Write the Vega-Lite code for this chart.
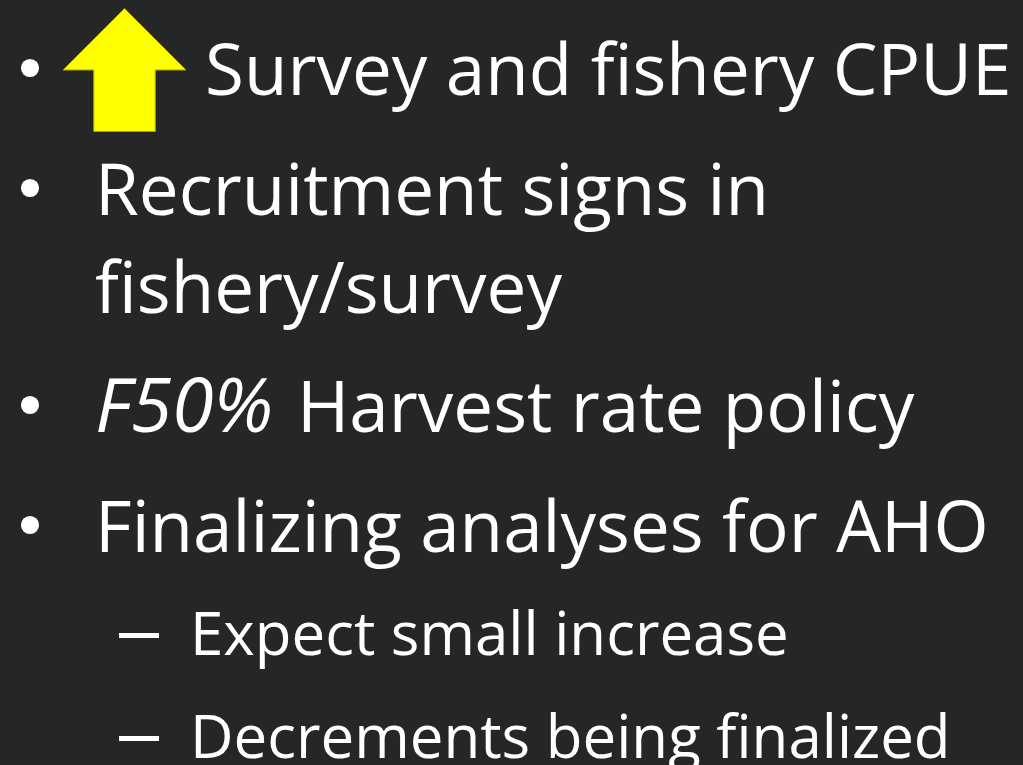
{
  "$schema": "https://vega.github.io/schema/vega-lite/v6.json",
  "autosize": {"type": "fit", "contains": "padding"},
  "width": 1023,
  "height": 765,
  "padding": 0,
  "background": "#262626",
  "config": {"view": {"stroke": null}, "text": {"font": "Open Sans", "color": "#FFFFFF", "baseline": "alphabetic", "align": "left"}},
  "data": {"values": [
    {"kind": "bullet", "row": 1, "col": 0, "text": ""},
    {"kind": "bullet", "row": 2, "col": 0, "text": ""},
    {"kind": "bullet", "row": 4, "col": 0, "text": ""},
    {"kind": "bullet", "row": 5, "col": 0, "text": ""},
    {"kind": "arrow", "row": 1, "col": 1, "text": ""},
    {"kind": "after-arrow", "row": 1, "col": 1, "text": "Survey and fishery CPUE"},
    {"kind": "main", "row": 2, "col": 1, "text": "Recruitment signs in"},
    {"kind": "main", "row": 3, "col": 1, "text": "fishery/survey"},
    {"kind": "italic", "row": 4, "col": 1, "text": "F50%"},
    {"kind": "after-italic", "row": 4, "col": 1, "text": "Harvest rate policy"},
    {"kind": "main", "row": 5, "col": 1, "text": "Finalizing analyses for AHO"},
    {"kind": "dash", "row": 6, "col": 2, "text": "–"},
    {"kind": "dash", "row": 7, "col": 2, "text": "–"},
    {"kind": "sub", "row": 6, "col": 3, "text": "Expect small increase"},
    {"kind": "sub", "row": 7, "col": 3, "text": "Decrements being finalized"}
  ]},
  "encoding": {
    "x": {"field": "col", "type": "quantitative", "axis": null, "scale": {"domain": [0, 1, 2, 3], "range": [30, 95, 119, 190], "zero": false, "nice": false}},
    "y": {"field": "row", "type": "quantitative", "axis": null, "scale": {"domain": [1, 2, 3, 4, 5, 6, 7], "range": [95, 215, 313, 432, 552, 655, 758], "zero": false, "nice": false}}
  },
  "layer": [
    {
      "transform": [{"filter": "datum.kind === 'bullet'"}],
      "mark": {"type": "point", "shape": "circle", "filled": true, "size": 330, "color": "#FFFFFF", "opacity": 1, "yOffset": -27}
    },
    {
      "transform": [{"filter": "datum.kind === 'arrow'"}],
      "mark": {"type": "point", "shape": "M0,-1L1,0L0.5,0L0.5,1L-0.5,1L-0.5,0L-1,0Z", "filled": true, "size": 15129, "fill": "#FFFF00", "fillOpacity": 1, "stroke": "#A8A800", "strokeWidth": 1, "opacity": 1, "xOffset": 29.5, "yOffset": -25}
    },
    {
      "transform": [{"filter": "datum.kind === 'after-arrow'"}],
      "mark": {"type": "text", "fontSize": 71, "dx": 110},
      "encoding": {"text": {"field": "text"}}
    },
    {
      "transform": [{"filter": "datum.kind === 'main'"}],
      "mark": {"type": "text", "fontSize": 71},
      "encoding": {"text": {"field": "text"}}
    },
    {
      "transform": [{"filter": "datum.kind === 'italic'"}],
      "mark": {"type": "text", "fontSize": 75, "fontStyle": "italic"},
      "encoding": {"text": {"field": "text"}}
    },
    {
      "transform": [{"filter": "datum.kind === 'after-italic'"}],
      "mark": {"type": "text", "fontSize": 71, "dx": 202},
      "encoding": {"text": {"field": "text"}}
    },
    {
      "transform": [{"filter": "datum.kind === 'dash'"}],
      "mark": {"type": "rule", "color": "#FFFFFF", "strokeWidth": 5, "strokeCap": "butt", "yOffset": -19.5, "x2Offset": 40},
      "encoding": {"x2": {"field": "col"}}
    },
    {
      "transform": [{"filter": "datum.kind === 'sub'"}],
      "mark": {"type": "text", "fontSize": 60},
      "encoding": {"text": {"field": "text"}}
    }
  ]
}
